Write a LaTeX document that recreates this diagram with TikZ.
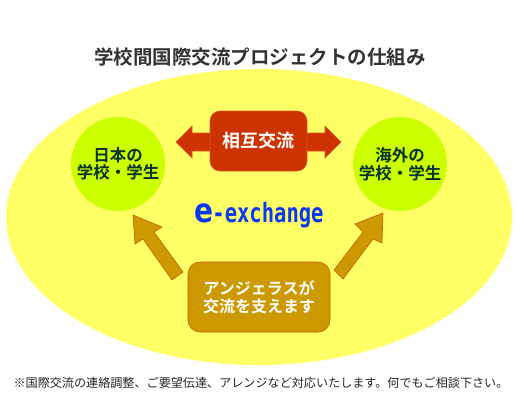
\documentclass[tikz,border=0pt]{standalone}
\usepackage{fontspec}
\newfontfamily\jp{Noto Sans CJK JP}
\newfontfamily\jpb{Noto Sans CJK JP Bold}
\newfontfamily\monob{DejaVu Sans Mono Bold}
\newfontfamily\sansb{DejaVu Sans Bold}
\definecolor{ellcol}{HTML}{FFFF66}
\definecolor{circcol}{HTML}{CCFF00}
\definecolor{circtxt}{HTML}{0A3328}
\definecolor{redcol}{HTML}{CC3300}
\definecolor{redline}{HTML}{E0551A}
\definecolor{goldcol}{HTML}{CC9900}
\definecolor{goldline}{HTML}{CC5A00}
\definecolor{bluecol}{HTML}{0A37F5}
\definecolor{titlecol}{HTML}{333333}
\begin{document}
\begin{tikzpicture}[x=1pt,y=-1pt,
  party/.style={circle,fill=circcol,minimum size=94pt,inner sep=0pt,
    text=circtxt,align=center,font=\jpb\fontsize{16.5}{17.5}\selectfont},
  redbox/.style={rounded corners=10pt,fill=redcol,draw=redline,line width=0.6pt,
    minimum width=97pt,minimum height=60pt,inner sep=0pt,text=white,
    font=\jpb\fontsize{18}{20}\selectfont},
  goldbox/.style={rounded corners=12pt,fill=goldcol,draw=goldline,line width=0.6pt,
    minimum width=142pt,minimum height=70pt,inner sep=0pt,text=white,align=center,
    font=\jpb\fontsize{16}{18}\selectfont},
  goldarrow/.style={fill=goldcol,draw=goldline,line width=0.6pt,line join=miter}]
\useasboundingbox (0,0) rectangle (519,400);
\fill[white] (0,0) rectangle (519,400);
% title
\node[text=titlecol,font=\jpb\fontsize{19.5}{21}\selectfont] (title) at (260,57) {学校間国際交流プロジェクトの仕組み};
% big ellipse
\fill[ellcol] (259,217) ellipse [x radius=253, y radius=148];
% circles
\node[party] (jp) at (118,164) {日本の\\学校・学生};
\node[party] (os) at (400,164) {海外の\\学校・学生};
% red double arrow
\fill[redcol,draw=redline,line width=0.6pt,line join=miter]
  (176,142) -- (192,126) -- (192,133) -- (325,133) -- (325,126) -- (341,142)
  -- (325,158) -- (325,151) -- (192,151) -- (192,158) -- cycle;
\node[redbox] (mutual) at (258.5,141) {相互交流};
% e-exchange
\node[anchor=base,text=bluecol,inner sep=0pt] (ex) at (259,222)
  {\scalebox{1}[1.2]{\sansb\fontsize{28}{28}\selectfont e}\kern-1pt\scalebox{1}[1.3]{\monob\fontsize{20.5}{20}\selectfont -exchange}};
% gold arrows
\draw[goldarrow] (133,215) -- (162,227) -- (154,232) -- (183,272) -- (172,280)
  -- (143,239) -- (135,244) -- cycle;
\draw[goldarrow] (383,213) -- (382,243) -- (373,239) -- (343,279) -- (334,270)
  -- (363,232) -- (355,224) -- cycle;
% gold box
\node[goldbox] (angelus) at (259,297) {アンジェラスが\\交流を支えます};
% footer
\node[text=black!85,font=\jp\fontsize{12.1}{13}\selectfont] (foot) at (261,383)
  {※国際交流の連絡調整、ご要望伝達、アレンジなど対応いたします。何でもご相談下さい。};
\end{tikzpicture}
\end{document}
